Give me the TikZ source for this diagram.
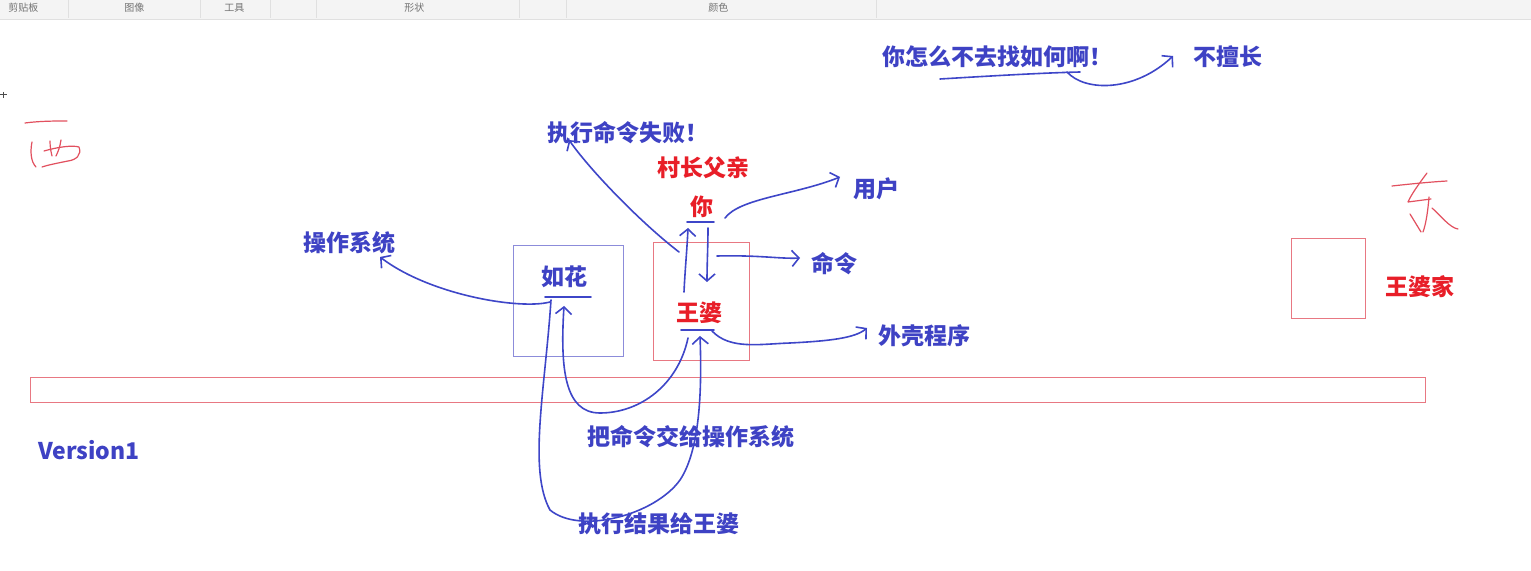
\documentclass[tikz,border=0pt]{standalone}
\usepackage{fontspec}
\newfontfamily\cjk{Noto Sans CJK SC}
\usetikzlibrary{arrows.meta}
\definecolor{tblue}{RGB}{62,66,196}
\definecolor{lblue}{RGB}{62,70,200}
\definecolor{bxblue}{RGB}{140,140,218}
\definecolor{tred}{RGB}{232,30,40}
\definecolor{bxred}{RGB}{232,120,130}
\definecolor{hred}{RGB}{226,80,95}
\definecolor{tbar}{RGB}{244,244,244}
\begin{document}
\begin{tikzpicture}[x=0.5pt,y=-0.5pt,
  lbl/.style={font=\cjk\bfseries\fontsize{11.5}{13}\selectfont, text=tblue, inner sep=0pt, anchor=west},
  rlbl/.style={lbl, text=tred},
  tbl/.style={font=\cjk\fontsize{5}{6}\selectfont, text=black!55, inner sep=0pt, anchor=west},
  conn/.style={draw=lblue, line width=0.8pt, line cap=round, line join=round},
  tip/.style={conn, -{Straight Barb[length=3.5pt,width=8pt]}},
  hand/.style={draw=hred, line width=0.6pt, line cap=round, line join=round},
  bx/.style={draw, line width=0.5pt, inner sep=0pt}
]
\useasboundingbox (0,0) rectangle (1531,571);
\fill[white] (0,0) rectangle (1531,571);
% toolbar
\fill[tbar] (0,0) rectangle (1531,19);
\draw[black!12] (0,19.5) -- (1531,19.5);
\foreach \sx in {68,200,270,316,519,566,876} \draw[black!12] (\sx,0) -- (\sx,18);
\node[tbl] (tb1) at (8,8) {剪贴板};
\node[tbl] (tb2) at (124,8) {图像};
\node[tbl] (tb3) at (224,8) {工具};
\node[tbl] (tb4) at (404,8) {形状};
\node[tbl] (tb5) at (708,8) {颜色};
% cursor mark
\draw[black!70, line width=0.5pt] (0,95) -- (7,95) (3,92) -- (3,98);
% handwritten 西
\draw[hand] (25,123) .. controls (40,121) and (55,121) .. (67,121);
\draw[hand] (32,142) .. controls (30,152) and (31,162) .. (36,167);
\draw[hand] (50,141) .. controls (50,147) and (51,152) .. (52,156);
\draw[hand] (61,140) .. controls (60,147) and (58,152) .. (56,156);
\draw[hand] (44,151) .. controls (58,147) and (72,145) .. (79,147) .. controls (82,155) and (76,160) .. (68,161) .. controls (58,163) and (48,165) .. (42,167);
% handwritten 东
\draw[hand] (1392,186) .. controls (1410,184) and (1430,182) .. (1447,181);
\draw[hand] (1427,173) .. controls (1418,185) and (1411,195) .. (1408,202) -- (1431,199);
\draw[hand] (1429,197) .. controls (1428,210) and (1426,224) .. (1423,232);
\draw[hand] (1410,214) -- (1421,232);
\draw[hand] (1432,208) .. controls (1440,215) and (1450,228) .. (1458,229);
% boxes
\node[bx, draw=bxblue, minimum width=55pt, minimum height=55.5pt] (rhbox) at (568,301.5) {};
\node[bx, draw=bxred, minimum width=48pt, minimum height=59pt] (wpbox) at (701,302) {};
\node[bx, draw=bxred, minimum width=37pt, minimum height=40pt] (wpjbox) at (1328,279) {};
\node[bx, draw=bxred, minimum width=697.5pt, minimum height=12.5pt] (bar) at (727.5,390.5) {};
% labels
\node[lbl] (why) at (882,57) {你怎么不去找如何啊！};
\node[lbl] (bsc) at (1193,57) {不擅长};
\node[lbl] (fail) at (547,133) {执行命令失败！};
\node[rlbl] (cz) at (657,168) {村长父亲};
\node[rlbl] (ni) at (690,207) {你};
\node[lbl] (yh) at (853,189) {用户};
\node[lbl] (ml) at (811,264) {命令};
\node[lbl] (wk) at (878,336) {外壳程序};
\node[lbl] (czxt) at (303,243) {操作系统};
\node[lbl] (rh) at (541,277) {如花};
\node[rlbl] (wp) at (676,313) {王婆};
\node[rlbl] (wpj) at (1385,287) {王婆家};
\node[lbl, font=\cjk\bfseries\fontsize{11.5}{14}\selectfont] (ver) at (38,450) {Version1};
\node[lbl] (bml) at (587,437) {把命令交给操作系统};
\node[lbl] (zxjg) at (578,524) {执行结果给王婆};
% underlines
\draw[conn] (687,222) -- (714,222);
\draw[conn] (545,297) -- (591,297);
\draw[conn] (681,330) -- (714,330);
\draw[conn] (940,79) .. controls (990,76) and (1040,73) .. (1080,72);
% connector coordinates
\coordinate (whyS) at (1067,72);
\coordinate (bscT) at (1173,56);
\coordinate (wpA) at (679,252);
\coordinate (failT) at (569,140);
\coordinate (wpUp) at (684,292);
\coordinate (niB) at (688,228);
\coordinate (niC) at (708,228);
\coordinate (wpT) at (707,282);
\coordinate (niR) at (725,218);
\coordinate (yhT) at (840,177);
\coordinate (wpR) at (717,256);
\coordinate (mlT) at (800,258);
\coordinate (wpD) at (712,331);
\coordinate (wkT) at (867,328);
\coordinate (rhL) at (550,302);
\coordinate (czT) at (380,257);
\coordinate (wpL) at (688,338);
\coordinate (rhT) at (564,306);
\coordinate (rhD) at (551,300);
\coordinate (wpB) at (700,336);
% connectors
\draw[tip] (whyS) .. controls (1085,92) and (1135,92) .. (bscT);
\draw[tip] (wpA) .. controls (640,222) and (590,170) .. (failT);
\draw[tip] (wpUp) .. controls (685,270) and (687,250) .. (niB);
\draw[tip] (niC) .. controls (708,245) and (707,265) .. (wpT);
\draw[tip] (niR) .. controls (740,198) and (795,195) .. (yhT);
\draw[tip] (wpR) .. controls (760,255) and (780,259) .. (mlT);
\draw[tip] (wpD) .. controls (730,350) and (760,344) .. (790,343) .. controls (830,341) and (855,338) .. (wkT);
\draw[tip] (rhL) .. controls (520,310) and (430,295) .. (czT);
\draw[tip] (wpL) .. controls (678,385) and (640,413) .. (600,413) .. controls (565,413) and (560,370) .. (rhT);
\draw[tip] (rhD) .. controls (545,390) and (528,470) .. (550,510) .. controls (580,535) and (655,515) .. (680,480) .. controls (700,450) and (702,390) .. (wpB);
\end{tikzpicture}
\end{document}
